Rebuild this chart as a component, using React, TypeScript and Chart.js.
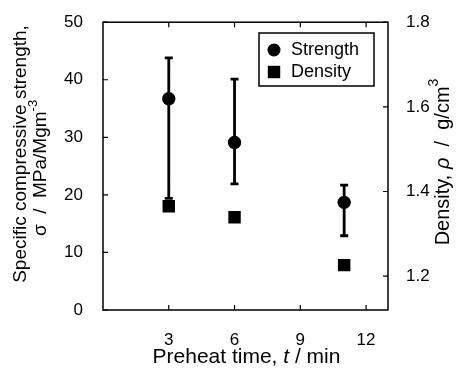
import React, { useEffect, useRef } from 'react';
import { Chart, registerables } from 'chart.js';

Chart.register(...registerables);

// ---- data ----
const preheatTimes = [3, 6, 11];
const strength = [36.7, 29.1, 18.7];
const strengthLow = [19.4, 21.9, 12.9];
const strengthHigh = [43.8, 40.1, 21.7];
const density = [1.365, 1.339, 1.226];

const xTicks = [3, 6, 9, 12];
const yLeftTicks = [0, 10, 20, 30, 40, 50];
const yRightTicks = [1.2, 1.4, 1.6, 1.8];

const seriesLabels = ['Strength', 'Density'];

const FONT = '"Liberation Sans", Arial, Helvetica, sans-serif';

type Run = { text: string; italic?: boolean; sup?: boolean };

const xTitleRuns: Run[] = [{ text: 'Preheat time, ' }, { text: 't', italic: true }, { text: ' / min' }];
const leftTitleLine1: Run[] = [{ text: 'Specific compressive strength,' }];
const leftTitleLine2: Run[] = [{ text: 'σ  /  MPa/Mgm' }, { text: '-3', sup: true }];
const rightTitleRuns: Run[] = [
  { text: 'Density, ' },
  { text: 'ρ', italic: true },
  { text: '  /  g/cm' },
  { text: '3', sup: true },
];

function drawRuns(ctx: CanvasRenderingContext2D, runs: Run[], cx: number, cy: number, size: number, rotate: boolean) {
  ctx.save();
  ctx.translate(cx, cy);
  if (rotate) ctx.rotate(-Math.PI / 2);
  ctx.fillStyle = '#000';
  ctx.textBaseline = 'middle';
  ctx.textAlign = 'left';
  const fontFor = (r: Run) => `${r.italic ? 'italic ' : ''}${r.sup ? Math.round(size * 0.68) : size}px ${FONT}`;
  let total = 0;
  const widths = runs.map((r) => {
    ctx.font = fontFor(r);
    const w = ctx.measureText(r.text).width;
    total += w;
    return w;
  });
  let x = -total / 2;
  runs.forEach((r, i) => {
    ctx.font = fontFor(r);
    ctx.fillText(r.text, x, r.sup ? -size * 0.42 : 0);
    x += widths[i];
  });
  ctx.restore();
}

const customPlugin = {
  id: 'customDecor',
  beforeDatasetsDraw(chart: any) {
    const ctx: CanvasRenderingContext2D = chart.ctx;
    const xs = chart.scales.x;
    const ys = chart.scales.y;
    const yr = chart.scales.y2;
    const a = chart.chartArea;
    ctx.save();
    ctx.strokeStyle = '#000';
    ctx.lineWidth = 1.5;
    ctx.strokeRect(a.left, a.top, a.right - a.left, a.bottom - a.top);
    const tl = 5;
    ctx.lineWidth = 1.2;
    ctx.beginPath();
    xTicks.forEach((v) => {
      const px = xs.getPixelForValue(v);
      ctx.moveTo(px, a.bottom);
      ctx.lineTo(px, a.bottom - tl);
      ctx.moveTo(px, a.top);
      ctx.lineTo(px, a.top + tl);
    });
    yLeftTicks.forEach((v) => {
      const py = ys.getPixelForValue(v);
      ctx.moveTo(a.left, py);
      ctx.lineTo(a.left + tl, py);
    });
    yRightTicks.forEach((v) => {
      const py = yr.getPixelForValue(v);
      ctx.moveTo(a.right, py);
      ctx.lineTo(a.right - tl, py);
    });
    ctx.stroke();

    // error bars
    ctx.lineWidth = 2.8;
    ctx.beginPath();
    preheatTimes.forEach((t, i) => {
      const px = xs.getPixelForValue(t);
      const lo = ys.getPixelForValue(strengthLow[i]);
      const hi = ys.getPixelForValue(strengthHigh[i]);
      ctx.moveTo(px, lo);
      ctx.lineTo(px, hi);
      ctx.moveTo(px - 4, lo);
      ctx.lineTo(px + 4, lo);
      ctx.moveTo(px - 4, hi);
      ctx.lineTo(px + 4, hi);
    });
    ctx.stroke();
    ctx.restore();
  },
  afterDraw(chart: any) {
    const ctx: CanvasRenderingContext2D = chart.ctx;
    const a = chart.chartArea;
    // legend
    ctx.save();
    const lx = 259, ly = 33, lw = 115, lh = 53;
    ctx.fillStyle = '#fff';
    ctx.fillRect(lx, ly, lw, lh);
    ctx.strokeStyle = '#000';
    ctx.lineWidth = 1.5;
    ctx.strokeRect(lx, ly, lw, lh);
    ctx.fillStyle = '#000';
    ctx.beginPath();
    ctx.arc(lx + 15, ly + 17, 6.5, 0, Math.PI * 2);
    ctx.fill();
    ctx.fillRect(lx + 15 - 6.2, ly + 39 - 6.2, 12.4, 12.4);
    ctx.font = `18px ${FONT}`;
    ctx.textBaseline = 'middle';
    ctx.textAlign = 'left';
    const labels = chart.data.datasets.map((d: any) => d.label);
    ctx.fillText(labels[0], lx + 32, ly + 17);
    ctx.fillText(labels[1], lx + 32, ly + 39);
    ctx.restore();

    // titles
    const cxPlot = (a.left + a.right) / 2;
    drawRuns(ctx, xTitleRuns, cxPlot + 1, 357, 21, false);
    drawRuns(ctx, leftTitleLine1, 21, 154, 19, true);
    drawRuns(ctx, leftTitleLine2, 41, 168, 19, true);
    drawRuns(ctx, rightTitleRuns, 443, 162, 20, true);
  },
};

export default function App() {
  const ref = useRef<HTMLCanvasElement | null>(null);
  useEffect(() => {
    if (!ref.current) return;
    const tickFont = { family: FONT, size: 17 };
    const chart = new Chart(ref.current, {
      type: 'scatter',
      data: {
        datasets: [
          {
            label: seriesLabels[0],
            data: preheatTimes.map((t, i) => ({ x: t, y: strength[i] })),
            yAxisID: 'y',
            pointStyle: 'circle',
            pointRadius: 6.7,
            backgroundColor: '#000',
            borderColor: '#000',
            borderWidth: 0,
          },
          {
            label: seriesLabels[1],
            data: preheatTimes.map((t, i) => ({ x: t, y: density[i] })),
            yAxisID: 'y2',
            pointStyle: 'rect',
            pointRadius: 8.8,
            backgroundColor: '#000',
            borderColor: '#000',
            borderWidth: 0,
          },
        ],
      },
      options: {
        responsive: false,
        animation: false,
        devicePixelRatio: 1,
        layout: { padding: { top: 16, left: 0, right: 0, bottom: 0 } },
        plugins: { legend: { display: false }, tooltip: { enabled: false } },
        scales: {
          x: {
            type: 'linear',
            min: 0,
            max: 13,
            grid: { display: false },
            border: { display: false },
            ticks: { font: tickFont, color: '#000', padding: 12 },
            afterBuildTicks: (s: any) => {
              s.ticks = xTicks.map((v) => ({ value: v }));
            },
            afterFit: (s: any) => {
              s.height = 59;
            },
          },
          y: {
            type: 'linear',
            position: 'left',
            min: 0,
            max: 50,
            grid: { display: false },
            border: { display: false },
            ticks: { font: tickFont, color: '#000', padding: 12 },
            afterBuildTicks: (s: any) => {
              s.ticks = yLeftTicks.map((v) => ({ value: v }));
            },
            afterFit: (s: any) => {
              s.width = 103;
            },
          },
          y2: {
            type: 'linear',
            position: 'right',
            min: 1.12,
            max: 1.8,
            grid: { display: false },
            border: { display: false },
            ticks: {
              font: tickFont,
              color: '#000',
              padding: 10,
              callback: (v: any) => Number(v).toFixed(1),
            },
            afterBuildTicks: (s: any) => {
              s.ticks = yRightTicks.map((v) => ({ value: v }));
            },
            afterFit: (s: any) => {
              s.width = 71;
            },
          },
        },
      },
      plugins: [customPlugin],
    } as any);
    return () => chart.destroy();
  }, []);
  return (
    <div style={{ position: 'fixed', left: 0, top: 0, width: 459, height: 369, background: '#fff' }}>
      <canvas ref={ref} width={459} height={369} style={{ width: 459, height: 369, display: 'block' }} />
    </div>
  );
}
